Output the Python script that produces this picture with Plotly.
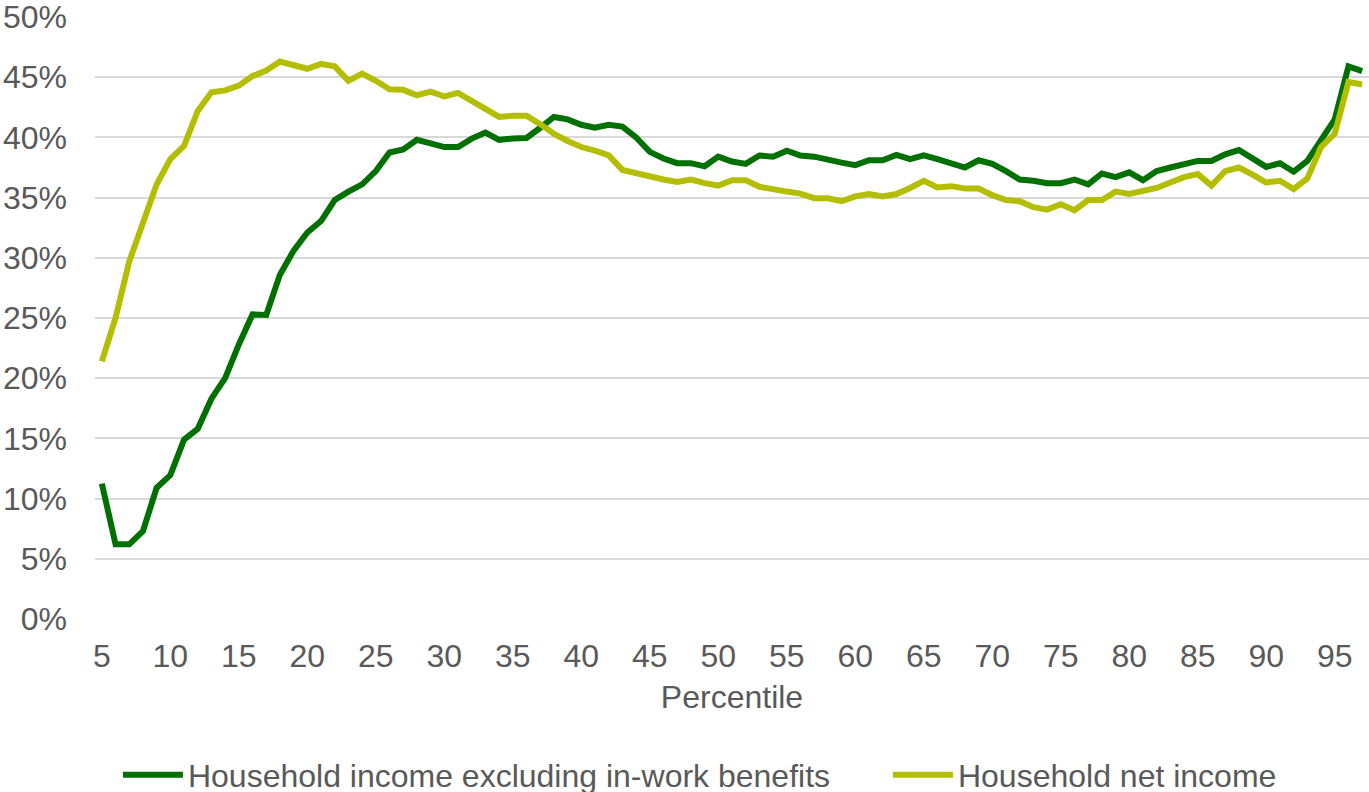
import plotly.graph_objects as go

percentile = list(range(5, 98))

excl_in_work = [
    11.25, 6.2, 6.2, 7.3, 10.9, 11.95, 14.9, 15.8, 18.3, 20.0,
    22.8, 25.3, 25.25, 28.6, 30.6, 32.1, 33.05, 34.8, 35.5, 36.1,
    37.2, 38.75, 39.0, 39.8, 39.5, 39.2, 39.2, 39.9, 40.4, 39.8,
    39.9, 39.95, 40.8, 41.7, 41.5, 41.05, 40.8, 41.05, 40.9, 40.0,
    38.8, 38.25, 37.86, 37.86, 37.6, 38.4, 38.0, 37.8, 38.5, 38.4,
    38.9, 38.5, 38.4, 38.1, 37.9, 37.7, 38.1, 38.1, 38.55, 38.2,
    38.5, 38.2, 37.9, 37.5, 38.1, 37.8, 37.2, 36.5, 36.4, 36.2,
    36.2, 36.5, 36.1, 37.0, 36.7, 37.1, 36.45, 37.2, 37.5, 37.8,
    38.05, 38.05, 38.6, 38.95, 38.3, 37.55, 37.85, 37.15, 38.05, 39.8,
    41.5, 45.9, 45.5,
]

net_income = [
    21.4, 25.0, 29.7, 32.9, 36.1, 38.2, 39.3, 42.2, 43.75, 43.9,
    44.3, 45.1, 45.55, 46.3, 46.0, 45.7, 46.1, 45.9, 44.7, 45.3,
    44.7, 44.0, 43.95, 43.5, 43.8, 43.4, 43.7, 43.05, 42.4, 41.7,
    41.8, 41.8, 41.1, 40.3, 39.7, 39.2, 38.9, 38.5, 37.3, 37.0,
    36.7, 36.5, 36.3, 36.5, 36.2, 36.0, 36.45, 36.45, 35.9, 35.65,
    35.5, 35.33, 34.95, 34.95, 34.7, 35.1, 35.3, 35.1, 35.3, 35.8,
    36.4, 35.85, 35.95, 35.75, 35.75, 35.2, 34.8, 34.7, 34.2, 34.0,
    34.45, 33.95, 34.8, 34.8, 35.5, 35.3, 35.55, 35.8, 36.25, 36.7,
    36.95, 36.0, 37.2, 37.5, 36.9, 36.25, 36.4, 35.7, 36.6, 39.2,
    40.3, 44.6, 44.4,
]

x_ticks = list(range(5, 96, 5))
y_ticks = list(range(0, 51, 5))

FONT = "Liberation Sans, Arial, sans-serif"
GREY = "#595959"
FS = 32

fig = go.Figure()
fig.add_trace(go.Scatter(
    x=percentile, y=excl_in_work, mode="lines",
    name="Household income excluding in-work benefits",
    line=dict(color="#007000", width=6), legend="legend",
))
fig.add_trace(go.Scatter(
    x=percentile, y=net_income, mode="lines",
    name="Household net income",
    line=dict(color="#B4BE00", width=6), legend="legend2",
))

leg = dict(orientation="h", yanchor="middle", y=-0.259, xanchor="left",
           font=dict(size=FS, color=GREY), itemwidth=60, bgcolor="rgba(0,0,0,0)")

fig.update_layout(
    width=1369, height=792,
    margin=dict(l=95, r=0, t=17, b=173, autoexpand=False),
    paper_bgcolor="white", plot_bgcolor="white",
    font=dict(family=FONT, size=FS, color=GREY),
    showlegend=True,
    legend=dict(leg, x=0.0180),
    legend2=dict(leg, x=0.6224),
)
fig.update_xaxes(
    range=[4.5, 97.5], tickvals=x_ticks, showgrid=False, zeroline=False,
    showline=False, ticks="", tickfont=dict(size=FS, color=GREY),
    ticklabelstandoff=15, automargin=False, ticklabeloverflow="allow",
    title=dict(text="Percentile", font=dict(size=FS, color=GREY), standoff=12),
)
fig.update_yaxes(
    range=[0, 50], tickvals=y_ticks, ticktext=[f"{v}%" for v in y_ticks],
    showgrid=True, gridcolor="#D9D9D9", gridwidth=2, zeroline=False,
    showline=False, ticks="", tickfont=dict(size=FS, color=GREY),
    ticklabelstandoff=27, automargin=False, ticklabeloverflow="allow",
)

# drop the default 8px page margin so the figure sits at the window corner
fig.write_html(
    "out.html",
    config={"displayModeBar": False},
    post_script="document.body.style.margin = '0';",
)
